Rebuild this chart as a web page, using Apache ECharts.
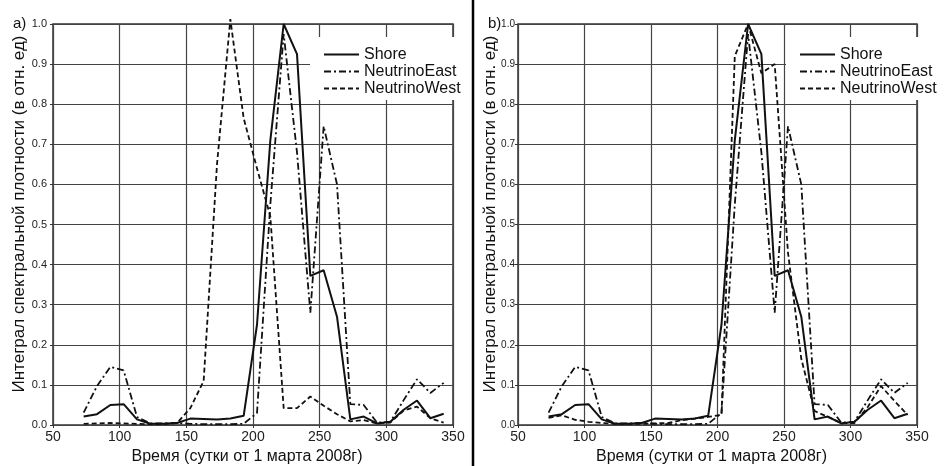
<!DOCTYPE html>
<html>
<head>
<meta charset="utf-8">
<script src="https://cdn.jsdelivr.net/npm/echarts@6/dist/echarts.min.js"></script>
<style>
  html, body { margin: 0; padding: 0; background: #fff; }
  #chart { width: 946px; height: 466px; }
</style>
</head>
<body>
<div id="chart"></div>
<script>
// сутки от 1 марта 2008г
const days = [73, 83, 93, 103, 113, 123, 133, 143, 153, 163, 173, 183, 193, 203,
              213, 223, 233, 243, 253, 263, 273, 283, 293, 303, 313, 323, 333, 343];

const shore = [0.021, 0.027, 0.050, 0.052, 0.014, 0.003, 0.003, 0.005, 0.016, 0.015, 0.014, 0.016, 0.023, 0.25,
               0.71, 1.0, 0.925, 0.372, 0.386, 0.27, 0.014, 0.021, 0.004, 0.008, 0.038, 0.061, 0.017, 0.028];

// одинаковая на обоих графиках
const east = [0.031, 0.097, 0.145, 0.136, 0.020, 0.004, 0.004, 0.005, 0.003, 0.002, 0.002, 0.002, 0.003, 0.03,
              0.55, 0.975, 0.68, 0.28, 0.745, 0.60, 0.052, 0.050, 0.006, 0.008, 0.062, 0.114, 0.080, 0.105];

// a) без сдвига
const westA = [0.003, 0.004, 0.005, 0.004, 0.003, 0.002, 0.003, 0.005, 0.042, 0.11, 0.65, 1.012, 0.765, 0.64,
               0.52, 0.042, 0.042, 0.071, 0.048, 0.027, 0.009, 0.012, 0.004, 0.006, 0.036, 0.046, 0.017, 0.006];

// b) со сдвигом
const westB = [0.018, 0.024, 0.013, 0.008, 0.005, 0.003, 0.003, 0.003, 0.004, 0.005, 0.012, 0.016, 0.020, 0.025,
               0.92, 1.0, 0.877, 0.90, 0.43, 0.165, 0.035, 0.020, 0.005, 0.005, 0.045, 0.097, 0.060, 0.025];

const names = ['Shore', 'NeutrinoEast', 'NeutrinoWest'];
const xTitle = 'Время (сутки от 1 марта 2008г)';
const yTitle = 'Интеграл спектральной плотности (в отн. ед)';

const font = 'Liberation Sans, Arial, sans-serif';
const ink = '#111';
const eastDash = [7, 3, 2, 3];
const westDash = [5, 3];

function pairs(arr) {
  return days.map((d, i) => [d, arr[i]]);
}

function line(name, arr, idx, type, width) {
  return {
    name: name,
    type: 'line',
    xAxisIndex: idx,
    yAxisIndex: idx,
    data: pairs(arr),
    symbol: 'none',
    clip: false,
    lineStyle: { color: ink, width: width, type: type },
    itemStyle: { color: ink },
    emphasis: { disabled: true }
  };
}

function xAx(idx) {
  return {
    type: 'value', gridIndex: idx, min: 50, max: 350, interval: 50,
    axisLine: { show: false },
    axisTick: { show: true, length: 3, lineStyle: { color: '#333' } },
    axisLabel: { fontSize: 14, color: '#222', fontFamily: font, margin: 5 },
    splitLine: { lineStyle: { color: '#444', width: 1.2 } },
    name: xTitle, nameLocation: 'middle', nameGap: 23,
    nameTextStyle: { fontSize: 16, color: ink, fontFamily: font, padding: [0, 12, 0, 0] }
  };
}

function yAx(idx, size, margin) {
  return {
    type: 'value', gridIndex: idx, min: 0, max: 1, interval: 0.1,
    axisLine: { show: false },
    axisTick: { show: true, length: 3, lineStyle: { color: '#333' } },
    axisLabel: { fontSize: size, color: '#222', fontFamily: font, margin: margin,
                 formatter: v => v.toFixed(1) },
    splitLine: { lineStyle: { color: '#444', width: 1.2 } }
  };
}

function legend(left) {
  return {
    data: names, orient: 'vertical', left: left, top: 37,
    padding: [9, 10, 3, 13], itemGap: 0, itemWidth: 35, itemHeight: 12,
    backgroundColor: '#fff', selectedMode: false,
    itemStyle: { opacity: 0 },
    textStyle: { fontSize: 16, color: ink, fontFamily: font, lineHeight: 17 }
  };
}

function txt(x, y, s, rot) {
  return {
    type: 'text', x: x, y: y, rotation: rot || 0,
    style: { text: s, fontSize: rot ? 17 : 15, fill: ink, fontFamily: font,
             align: rot ? 'center' : 'left', verticalAlign: 'middle' }
  };
}

const chart = echarts.init(document.getElementById('chart'));
chart.setOption({
  animation: false,
  backgroundColor: '#fff',
  grid: [
    { left: 53, top: 24, width: 400, height: 401, outerBoundsMode: 'none',
      show: true, borderColor: '#333', borderWidth: 1.5 },
    { left: 518, top: 24, width: 399, height: 401, outerBoundsMode: 'none',
      show: true, borderColor: '#333', borderWidth: 1.5 }
  ],
  xAxis: [xAx(0), xAx(1)],
  yAxis: [yAx(0, 11, 6), yAx(1, 10, 3)],
  legend: [legend(310), legend(786)],
  series: [
    line('Shore', shore, 0, 'solid', 2),
    line('NeutrinoEast', east, 0, eastDash, 1.8),
    line('NeutrinoWest', westA, 0, westDash, 1.8),
    line('Shore', shore, 1, 'solid', 2),
    line('NeutrinoEast', east, 1, eastDash, 1.8),
    line('NeutrinoWest', westB, 1, westDash, 1.8)
  ],
  graphic: [
    { type: 'line', shape: { x1: 473, y1: 0, x2: 473, y2: 466 }, style: { stroke: '#000', lineWidth: 2.5 } },
    txt(13, 24, 'a)'),
    txt(488, 24, 'b)'),
    txt(19, 214, yTitle, Math.PI / 2),
    txt(490, 214, yTitle, Math.PI / 2)
  ]
});
</script>
</body>
</html>
